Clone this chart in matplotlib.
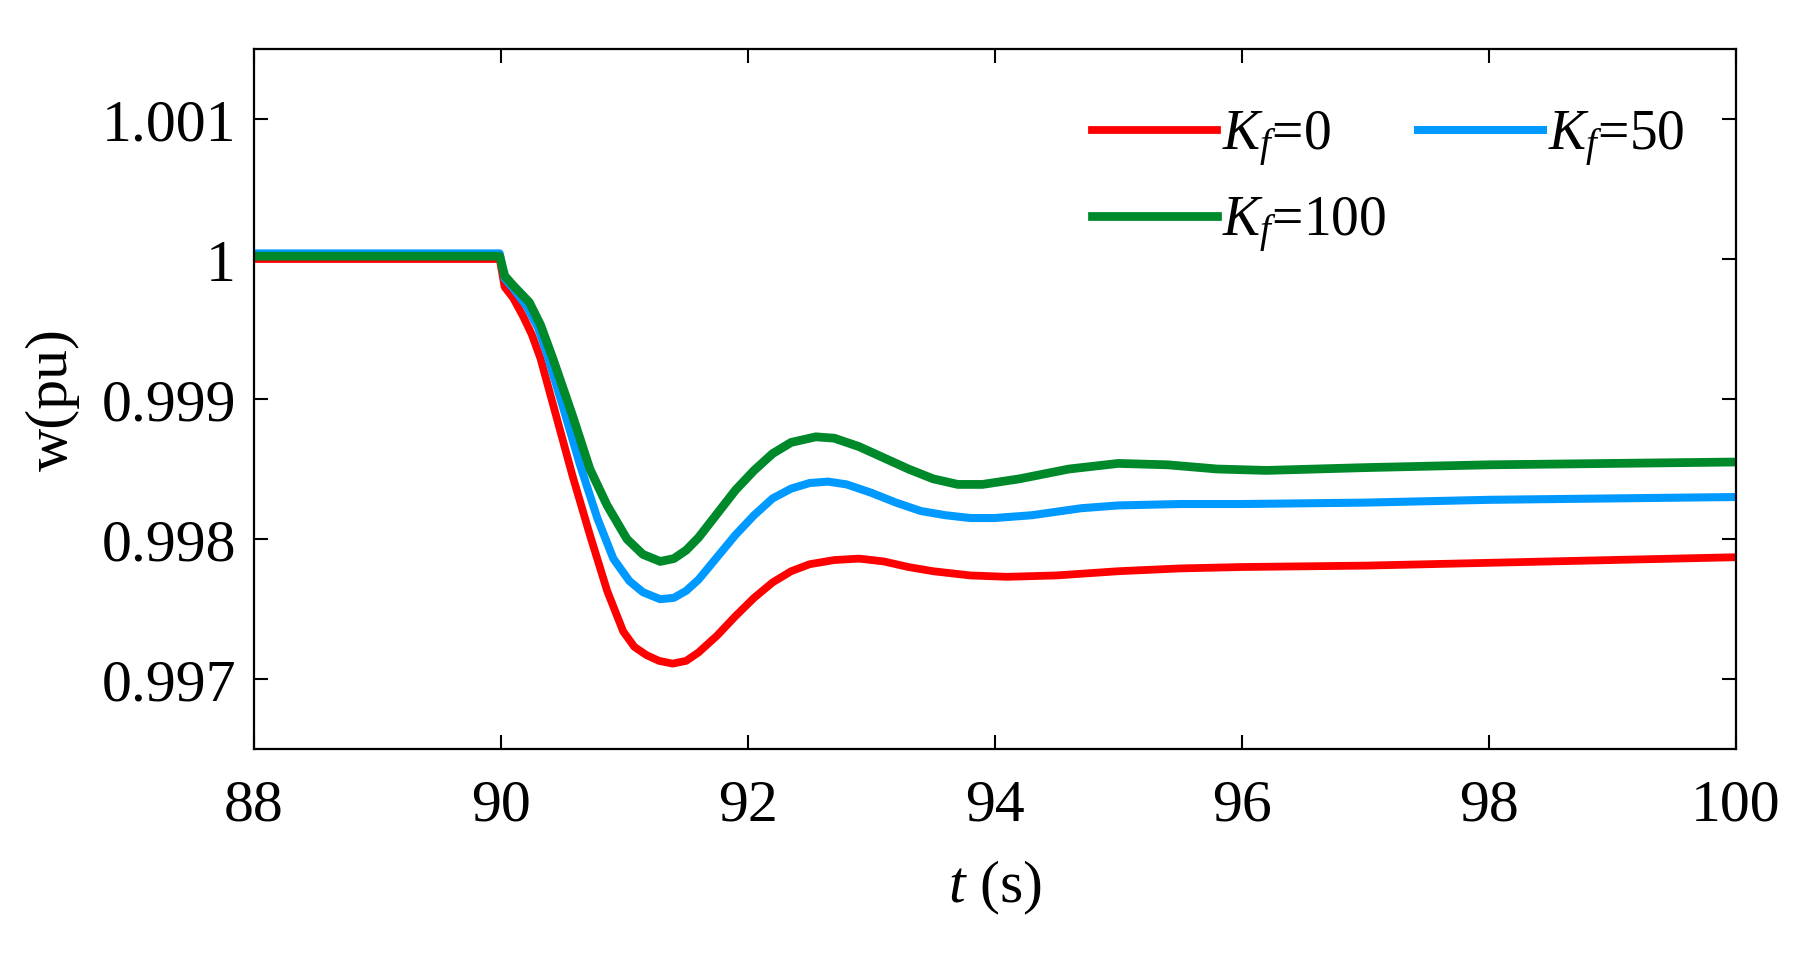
import matplotlib
matplotlib.use('Agg')
import matplotlib.pyplot as plt

# Font setup: Times-like serif everywhere, incl. mathtext
plt.rcParams['font.family'] = ['Liberation Serif', 'DejaVu Serif']
plt.rcParams['mathtext.fontset'] = 'custom'
plt.rcParams['mathtext.rm'] = 'Liberation Serif'
plt.rcParams['mathtext.it'] = 'Liberation Serif:italic'

# Data
t_red = [88.0, 89.99, 90.03, 90.10, 90.18, 90.25, 90.32, 90.45, 90.58, 90.72, 90.86,
         90.99, 91.08, 91.18, 91.28, 91.39, 91.50, 91.60, 91.75, 91.90, 92.05, 92.20,
         92.35, 92.50, 92.70, 92.90, 93.10, 93.30, 93.50, 93.80, 94.10, 94.50, 95.00,
         95.50, 96.00, 97.00, 98.00, 99.00, 100.0]
w_red = [1.00000, 1.00000, 0.99980, 0.99972, 0.99959, 0.99946, 0.99929, 0.99887, 0.99845,
         0.99803, 0.99763, 0.99734, 0.99723, 0.99717, 0.99713, 0.99711, 0.99713, 0.99719,
         0.99731, 0.99745, 0.99758, 0.99769, 0.99777, 0.99782, 0.99785, 0.99786, 0.99784,
         0.99780, 0.99777, 0.99774, 0.99773, 0.99774, 0.99777, 0.99779, 0.99780, 0.99781,
         0.99783, 0.99785, 0.99787]

t_blue = [88.0, 89.99, 90.03, 90.10, 90.21, 90.30, 90.37, 90.50, 90.64, 90.78, 90.91,
          91.04, 91.15, 91.29, 91.40, 91.50, 91.60, 91.75, 91.90, 92.05,
          92.20, 92.35, 92.50, 92.65, 92.80, 93.00, 93.20, 93.40, 93.60, 93.80, 94.00,
          94.30, 94.70, 95.00, 95.50, 96.00, 97.00, 98.00, 99.00, 100.0]
w_blue = [1.00004, 1.00004, 0.99986, 0.99979, 0.99966, 0.99951, 0.99933, 0.99895, 0.99853,
          0.99815, 0.99786, 0.99770, 0.99762, 0.99757, 0.99758, 0.99763,
          0.99771, 0.99787, 0.99803, 0.99817, 0.99829, 0.99836, 0.99840, 0.99841, 0.99839,
          0.99833, 0.99826, 0.99820, 0.99817, 0.99815, 0.99815, 0.99817, 0.99822, 0.99824,
          0.99825, 0.99825, 0.99826, 0.99828, 0.99829, 0.99830]

t_green = [88.0, 89.99, 90.03, 90.10, 90.23, 90.32, 90.42, 90.58, 90.72, 90.86, 91.02,
           91.15, 91.29, 91.40, 91.50, 91.60, 91.75, 91.90, 92.05,
           92.20, 92.35, 92.55, 92.70, 92.90, 93.10, 93.30, 93.50, 93.70, 93.90, 94.20,
           94.60, 95.00, 95.40, 95.80, 96.20, 96.60, 97.00, 98.00, 99.00, 100.0]
w_green = [1.00002, 1.00002, 0.99988, 0.99981, 0.99969, 0.99953, 0.99929, 0.99888, 0.99850,
           0.99824, 0.99800, 0.99789, 0.99784, 0.99786, 0.99792,
           0.99801, 0.99818, 0.99835, 0.99849, 0.99861, 0.99869, 0.99873, 0.99872, 0.99866,
           0.99858, 0.99850, 0.99843, 0.99839, 0.99839, 0.99843, 0.99850, 0.99854, 0.99853,
           0.99850, 0.99849, 0.99850, 0.99851, 0.99853, 0.99854, 0.99855]

labels = [r'$K_f$=0', r'$K_f$=50', r'$K_f$=100']
x_ticks = [88, 90, 92, 94, 96, 98, 100]
y_ticks = [0.997, 0.998, 0.999, 1.0, 1.001]
y_tick_labels = ['0.997', '0.998', '0.999', '1', '1.001']

fig = plt.figure(figsize=(18.08, 9.54), dpi=100)
ax = fig.add_axes([0.1405, 0.2138, 0.8195, 0.7338])

l_red, = ax.plot(t_red, w_red, color='#ff0000', lw=5.6, label=labels[0])
l_blue, = ax.plot(t_blue, w_blue, color='#0099ff', lw=5.8, label=labels[1])
l_green, = ax.plot(t_green, w_green, color='#00892b', lw=6.3, label=labels[2])

ax.set_xlim(88, 100)
ax.set_ylim(0.9965, 1.0015)
ax.set_xticks(x_ticks)
ax.set_yticks(y_ticks)
ax.set_yticklabels(y_tick_labels)

ax.tick_params(direction='in', top=True, right=True, length=10, width=1.5,
               labelsize=43)
ax.tick_params(axis='x', pad=21)
ax.tick_params(axis='y', pad=13)
for s in ax.spines.values():
    s.set_linewidth(1.6)

ax.set_xlabel(r'$t$ (s)', fontsize=43, va='center')
ax.xaxis.set_label_coords(0.5, -0.197)
ax.set_ylabel('w(pu)', fontsize=43, va='center')
ax.yaxis.set_label_coords(-0.1356, 0.5)

# row-wise order: Kf=0, Kf=50 / Kf=100
ax.legend([l_red, l_green, l_blue], [labels[0], labels[2], labels[1]],
          ncol=2, loc='upper left', bbox_to_anchor=(0.5655, 0.915),
          frameon=False, fontsize=40, borderpad=0, borderaxespad=0,
          handlelength=2.25, handletextpad=0.1, columnspacing=0.56,
          labelspacing=0.48)

fig.savefig('out.png', dpi=100)
